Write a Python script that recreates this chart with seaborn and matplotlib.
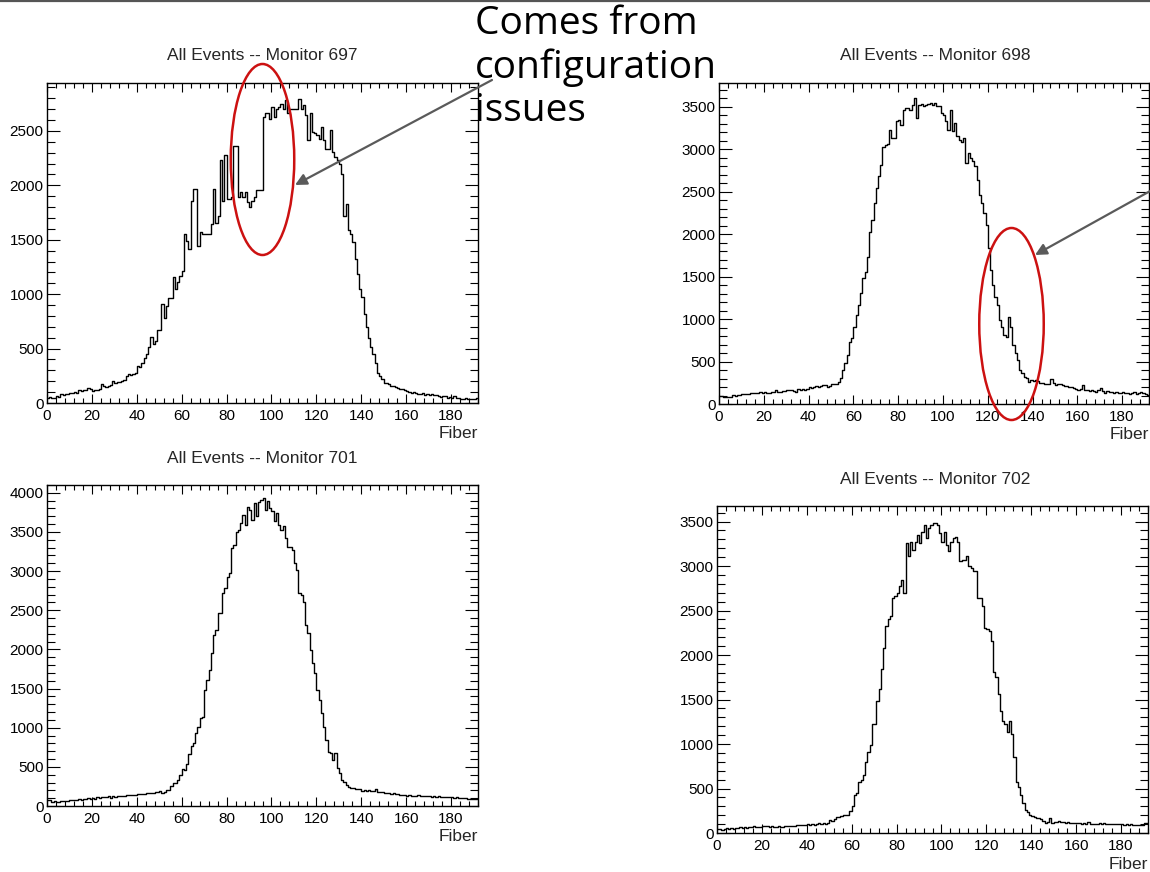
import numpy as np
import pandas as pd
import matplotlib
matplotlib.use("Agg")
import matplotlib.pyplot as plt
from matplotlib.patches import Ellipse
from matplotlib.ticker import MultipleLocator
import seaborn as sns

# ---------------- data (counts per fiber, fibers 0..191) ----------------
fiber_edges = list(range(0, 193))

m697 = [50, 55, 45, 50, 60, 55, 80, 75, 85, 80,
        95, 90, 100, 95, 115, 110, 120, 115, 135, 130,
        110, 120, 115, 125, 170, 155, 150, 160, 165, 200,
        185, 190, 195, 200, 210, 250, 265, 260, 270, 280,
        340, 330, 370, 415, 450, 510, 610, 540, 570, 670,
        670, 910, 785, 895, 965, 965, 1155, 1045, 1110, 1170,
        1215, 1555, 1490, 1415, 1860, 1970, 1970, 1445, 1570, 1555,
        1555, 1555, 1555, 1645, 1970, 1655, 1720, 2230, 1860, 2275,
        1875, 1875, 1890, 2365, 2365, 1890, 1935, 1890, 1935, 1850,
        1800, 1860, 1890, 1955, 1955, 1955, 2630, 2660, 2660, 2610,
        2720, 2630, 2705, 2720, 2750, 2705, 2780, 2660, 2705, 2705,
        2705, 2705, 2795, 2705, 2735, 2645, 2415, 2660, 2490, 2480,
        2460, 2430, 2535, 2415, 2335, 2335, 2505, 2305, 2260, 2230,
        2200, 2105, 1720, 1830, 1585, 1555, 1475, 1325, 1185, 1045,
        970, 815, 695, 600, 510, 450, 370, 280, 250, 220,
        185, 180, 170, 160, 155, 150, 140, 130, 125, 120,
        110, 100, 95, 105, 90, 85, 80, 90, 75, 80,
        70, 85, 75, 70, 60, 55, 65, 60, 50, 55,
        50, 60, 45, 50, 40, 35, 45, 40, 35, 40,
        35, 45]

m698 = [94, 90, 85, 80, 86, 88, 106, 100, 108, 104,
        118, 112, 120, 116, 126, 130, 124, 135, 140, 132,
        145, 134, 130, 138, 136, 165, 145, 140, 150, 148,
        165, 160, 170, 158, 138, 173, 168, 178, 170, 182,
        196, 190, 200, 212, 205, 215, 224, 220, 204, 208,
        236, 230, 240, 263, 302, 400, 480, 577, 735, 774,
        911, 1049, 1167, 1304, 1481, 1559, 1736, 2031, 2168, 2365,
        2541, 2679, 2816, 3032, 3052, 3060, 3229, 3131, 3131, 3327,
        3347, 3288, 3464, 3484, 3490, 3464, 3523, 3602, 3366, 3523,
        3535, 3504, 3523, 3530, 3543, 3520, 3543, 3504, 3504, 3425,
        3406, 3327, 3229, 3464, 3209, 3307, 3150, 3111, 3091, 3131,
        2836, 2954, 2895, 2856, 2797, 2640, 2463, 2365, 2247, 2109,
        1834, 1579, 1402, 1265, 1167, 990, 911, 813, 793, 1029,
        911, 695, 597, 518, 400, 361, 322, 302, 263, 283,
        270, 278, 265, 250, 245, 236, 240, 230, 291, 245,
        224, 230, 236, 220, 215, 212, 205, 195, 185, 180,
        165, 175, 224, 170, 160, 157, 165, 150, 145, 160,
        185, 150, 134, 150, 140, 145, 130, 140, 126, 135,
        145, 125, 130, 118, 135, 138, 120, 130, 145, 125,
        118, 110]

m701 = [77, 75, 55, 58, 52, 55, 60, 68, 65, 70,
        77, 72, 80, 75, 85, 82, 88, 84, 98, 92,
        100, 95, 111, 105, 115, 119, 115, 122, 105, 128,
        120, 125, 128, 122, 130, 135, 141, 138, 145, 140,
        153, 148, 158, 150, 170, 165, 172, 168, 183, 178,
        188, 170, 175, 204, 200, 256, 290, 295, 332, 396,
        469, 460, 533, 665, 767, 801, 929, 1005, 1120, 1142,
        1482, 1610, 1738, 1960, 2185, 2249, 2462, 2462, 2718, 2782,
        2931, 2973, 3293, 3336, 3506, 3527, 3612, 3719, 3591, 3817,
        3783, 3655, 3868, 3700, 3889, 3911, 3932, 3783, 3902, 3804,
        3762, 3634, 3740, 3591, 3527, 3570, 3421, 3314, 3314, 3272,
        3101, 3016, 2718, 2697, 2611, 2313, 2207, 1994, 1823, 1695,
        1482, 1355, 1184, 1014, 844, 694, 680, 588, 673, 481,
        417, 332, 311, 268, 247, 226, 230, 222, 213, 215,
        196, 200, 190, 198, 192, 196, 213, 183, 178, 175,
        170, 165, 162, 158, 160, 153, 150, 145, 141, 135,
        128, 135, 125, 130, 128, 135, 125, 130, 122, 128,
        128, 120, 125, 118, 122, 119, 115, 120, 112, 118,
        111, 105, 110, 100, 105, 98, 102, 92, 95, 88,
        85, 90]

m702 = [41, 45, 38, 42, 52, 50, 55, 48, 60, 58,
        62, 56, 64, 60, 71, 68, 75, 66, 72, 70,
        78, 74, 80, 72, 76, 71, 68, 74, 70, 72,
        78, 75, 80, 76, 82, 89, 85, 90, 86, 92,
        97, 94, 100, 95, 98, 108, 104, 110, 105, 112,
        145, 140, 160, 175, 183, 190, 201, 201, 205, 250,
        302, 425, 444, 574, 593, 648, 798, 909, 984, 1226,
        1226, 1487, 1618, 1841, 2083, 2326, 2400, 2437, 2642, 2661,
        2698, 2773, 2847, 2698, 3257, 3108, 3276, 3183, 3276, 3351,
        3257, 3388, 3462, 3313, 3425, 3462, 3481, 3481, 3462, 3369,
        3276, 3388, 3239, 3164, 3276, 3313, 3332, 3276, 3052, 3071,
        3071, 3108, 2996, 2978, 2940, 2940, 2642, 2642, 2549, 2307,
        2288, 2270, 2158, 1804, 1748, 1562, 1375, 1263, 1226, 1133,
        1263, 1114, 853, 574, 518, 425, 332, 257, 239, 201,
        190, 183, 171, 164, 153, 138, 116, 125, 164, 116,
        127, 120, 130, 125, 122, 116, 120, 112, 118, 115,
        108, 112, 104, 110, 106, 125, 100, 104, 98, 102,
        108, 104, 110, 100, 106, 100, 96, 104, 98, 102,
        97, 92, 100, 95, 98, 89, 94, 86, 92, 88,
        110, 116]

titles = ["All Events -- Monitor 697", "All Events -- Monitor 698",
          "All Events -- Monitor 701", "All Events -- Monitor 702"]
x_label = "Fiber"
x_ticks = [0, 20, 40, 60, 80, 100, 120, 140, 160, 180]
annotation_lines = ["Comes from", "configuration", "issues"]

# ---------------- figure ----------------
W, H = 1150, 872
sns.set_style("ticks")
plt.rcParams["font.family"] = ["Liberation Sans", "DejaVu Sans"]
fig = plt.figure(figsize=(W / 100, H / 100), dpi=100)


def px_axes(x0, y0, x1, y1):
    return [x0 / W, (H - y1) / H, (x1 - x0) / W, (y1 - y0) / H]


panels = [
    (m697, px_axes(47, 83, 478, 403), 2940, 2500, (262, 55)),
    (m698, px_axes(719, 83, 1149, 404), 3780, 3500, (935, 55)),
    (m701, px_axes(47, 485, 478, 806), 4100, 4000, (262, 458)),
    (m702, px_axes(717, 506, 1148, 833), 3675, 3500, (935, 479)),
]

for (vals, rect, ymax, ytop, tpos), title in zip(panels, titles):
    ax = fig.add_axes(rect)
    df = pd.DataFrame({"fiber": np.arange(len(vals)) + 0.5, "count": vals})
    sns.histplot(data=df, x="fiber", weights="count", bins=fiber_edges,
                 element="step", fill=False, color="black", linewidth=1.0,
                 ax=ax)
    ax.set_xlim(0, 192)
    ax.set_ylim(0, ymax)
    ax.set_xlabel("")
    ax.set_ylabel("")
    ax.set_xticks(x_ticks)
    ax.set_yticks(list(range(0, ytop + 1, 500)))
    ax.xaxis.set_minor_locator(MultipleLocator(4))
    ax.yaxis.set_minor_locator(MultipleLocator(100))
    for s in ax.spines.values():
        s.set_visible(True)
        s.set_linewidth(1.0)
        s.set_color("black")
    ax.tick_params(which="both", direction="in", top=True, right=True,
                   width=0.8, colors="black", labelsize=11)
    ax.tick_params(axis="x", which="major", length=6.5, pad=4)
    ax.tick_params(axis="x", which="minor", length=3.5)
    ax.tick_params(axis="y", which="major", length=9.5, pad=2.5)
    ax.tick_params(axis="y", which="minor", length=5.5)
    ax.text(1.0, -0.072, x_label, transform=ax.transAxes, ha="right",
            va="top", fontsize=12.5)
    fig.text(tpos[0] / W, 1 - tpos[1] / H, title, ha="center",
             va="center", fontsize=12.5)

# ---------------- overlay annotations ----------------
ov = fig.add_axes([0, 0, 1, 1], zorder=20)
ov.set_xlim(0, W)
ov.set_ylim(H, 0)
ov.axis("off")
ov.patch.set_alpha(0)

ov.plot([0, W], [0.8, 0.8], color="#555555", lw=1.6)

ov.add_patch(Ellipse((262.5, 159.5), 63.5, 191, fill=False,
                     edgecolor="#cc1111", lw=1.8))
ov.add_patch(Ellipse((1011.5, 324), 64.5, 192, fill=False,
                     edgecolor="#cc1111", lw=1.8))

arrow_kw = dict(arrowstyle="-|>", color="#5a5a5a", lw=1.6,
                mutation_scale=17, shrinkA=0, shrinkB=0)
ov.annotate("", xy=(295, 185), xytext=(492, 80), arrowprops=arrow_kw)
ov.annotate("", xy=(1035, 255), xytext=(1152, 190), arrowprops=arrow_kw)

for line, yb in zip(annotation_lines, [34, 78, 121]):
    ov.text(475, yb, line, ha="left", va="baseline", fontsize=28,
            family=["Open Sans", "DejaVu Sans"], color="black")

fig.savefig("out.png", dpi=100)
